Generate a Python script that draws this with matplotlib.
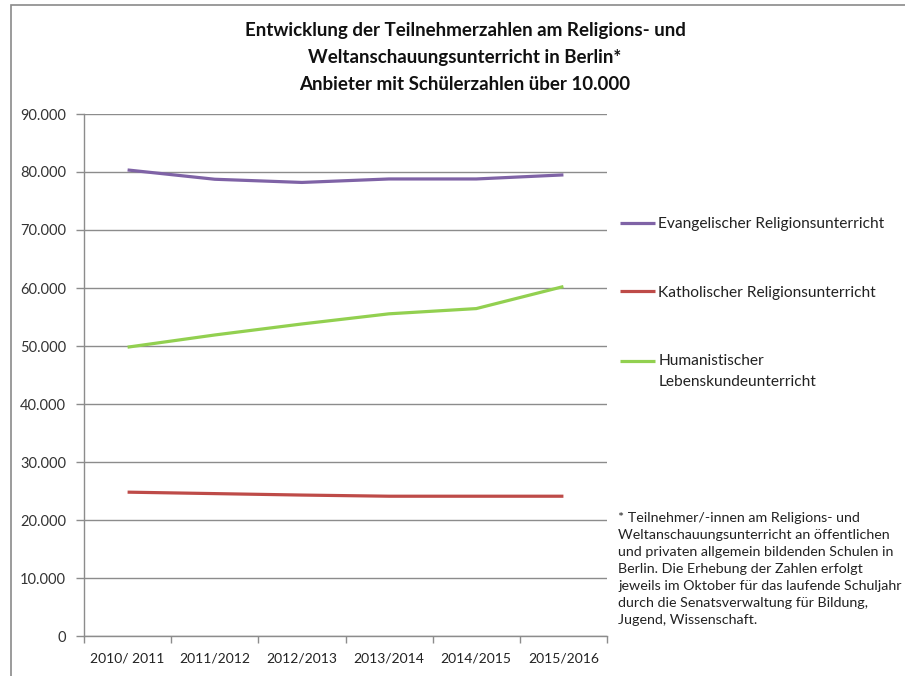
import numpy as np
import matplotlib
matplotlib.use("Agg")
import matplotlib.pyplot as plt
from matplotlib.legend_handler import HandlerLine2D
from matplotlib.patches import Rectangle
from matplotlib.ticker import FuncFormatter

plt.rcParams['font.family'] = ['Lato', 'DejaVu Sans']

# Schuljahre
jahre = ['2010/ 2011', '2011/2012', '2012/2013', '2013/2014', '2014/2015', '2015/2016']

# Teilnehmerzahlen
evangelisch = [80350, 78750, 78200, 78800, 78800, 79500]
katholisch = [24800, 24550, 24300, 24100, 24100, 24100]
humanistisch = [49800, 51900, 53800, 55550, 56450, 60250]

labels = ['Evangelischer Religionsunterricht',
          'Katholischer Religionsunterricht',
          'Humanistischer\nLebenskundeunterricht']
farben = ['#7F63A6', '#BE4B48', '#92D050']

fussnote = ('* Teilnehmer/-innen am Religions- und\n'
            'Weltanschauungsunterricht an öffentlichen\n'
            'und privaten allgemein bildenden Schulen in\n'
            'Berlin. Die Erhebung der Zahlen erfolgt\n'
            'jeweils im Oktober für das laufende Schuljahr\n'
            'durch die Senatsverwaltung für Bildung,\n'
            'Jugend, Wissenschaft.')

titel = ('Entwicklung der Teilnehmerzahlen am Religions- und\n'
         'Weltanschauungsunterricht in Berlin*\n'
         'Anbieter mit Schülerzahlen über 10.000')


class FirstLineHandler(HandlerLine2D):
    # Linie an der ersten Textzeile ausrichten (wie in Excel)
    def create_artists(self, legend, orig_handle, xdescent, ydescent,
                       width, height, fontsize, trans):
        arts = super().create_artists(legend, orig_handle, xdescent, ydescent,
                                      width, height, fontsize, trans)
        for a in arts:
            a.set_ydata(np.asarray(a.get_ydata()) + 0.67 * fontsize)
        return arts


fig = plt.figure(figsize=(9.05, 6.76), dpi=100)
ax = fig.add_axes([84 / 905, 1 - 636 / 676, (607 - 84) / 905, (636 - 114) / 676])

x = np.arange(len(jahre))
lines = []
for werte, farbe, lab in zip([evangelisch, katholisch, humanistisch], farben, labels):
    l, = ax.plot(x, werte, color=farbe, lw=2.3, label=lab, solid_capstyle='butt')
    lines.append(l)

grau = '#8C8C8C'
ax.set_xlim(-0.5, len(jahre) - 0.5)
ax.set_ylim(0, 90000)
ax.set_yticks(np.arange(0, 90001, 10000))
ax.yaxis.set_major_formatter(FuncFormatter(lambda v, p: f'{int(v):,}'.replace(',', '.')))
ax.set_xticks(x)
ax.set_xticklabels(jahre)
ax.set_xticks(np.arange(-0.5, len(jahre), 1), minor=True)
ax.tick_params(axis='x', which='major', length=0, pad=12, labelsize=10, labelcolor='#222222')
ax.tick_params(axis='x', which='minor', length=5, color=grau, width=1)
ax.tick_params(axis='y', length=6, color=grau, width=1, pad=7, labelsize=10.5, labelcolor='#333333')
ax.grid(axis='y', color=grau, lw=1)
ax.set_axisbelow(True)
for s in ['top', 'right']:
    ax.spines[s].set_visible(False)
for s in ['left', 'bottom']:
    ax.spines[s].set_color(grau)
    ax.spines[s].set_linewidth(1)

leg = ax.legend(lines, labels, loc='upper left', bbox_to_anchor=(1.013, 0.814),
                frameon=False, fontsize=11.2, handlelength=2.25, handletextpad=0.2,
                labelspacing=3.5, borderaxespad=0,
                handler_map={lines[2]: FirstLineHandler()})
for t in leg.get_texts():
    t.set_color('#222222')
    t.set_linespacing(1.58)

fig.text(465 / 905, 1 - 22 / 676, titel, ha='center', va='top', fontsize=13.5,
         fontweight='bold', linespacing=1.73, color='#111111')

fig.text(618 / 905, 1 - 512 / 676, fussnote, ha='left', va='top', fontsize=10.3,
         linespacing=1.5, color='#222222')

# Rahmen um das Diagramm
fig.patches.append(Rectangle((11 / 905, -0.1), 1.2, 1.1 - 5 / 676, transform=fig.transFigure,
                             fill=False, edgecolor='#8A8A8A', lw=1.2))

fig.savefig('out.png', dpi=100)
